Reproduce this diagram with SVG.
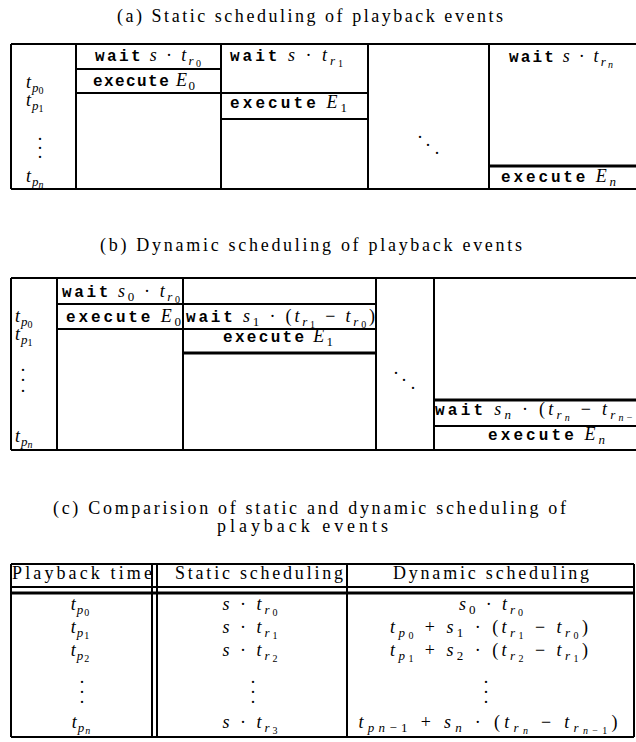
<svg xmlns="http://www.w3.org/2000/svg" width="636" height="742" viewBox="0 0 636 742">
<style>
.ln{stroke:#000;stroke-width:2;fill:none}
.th{stroke:#000;stroke-width:3;fill:none}
.rm{font-family:"Liberation Serif",serif;font-size:18px;fill:#000}
.mi{font-style:italic}
.tt{font-family:"Liberation Mono",monospace;font-size:16px;font-weight:bold}
.s1{font-size:13px}
.s2{font-size:10px}
.c{text-anchor:middle}
</style>
<rect width="636" height="742" fill="#fff"/>

<g id="titles">
<text class="rm" x="117" y="22" textLength="386" lengthAdjust="spacing">(a) Static scheduling of playback events</text>
<text class="rm" x="100" y="251" textLength="422" lengthAdjust="spacing">(b) Dynamic scheduling of playback events</text>
<text class="rm" x="53" y="514" textLength="513" lengthAdjust="spacing">(c) Comparision of static and dynamic scheduling of</text>
<text class="rm" x="217" y="532" textLength="171" lengthAdjust="spacing">playback events</text>
</g>

<g id="table-a">
<path class="ln" d="M11,44H636M11,189H636M11,44V189M76,44V189M221,44V189M368,44V189M489,44V189M76,69H221M76,93H368M221,119H368"/>
<path class="th" d="M489,166H636"/>
<text class="rm" x="26" y="88"><tspan class="mi">t</tspan><tspan class="mi s1" dx="1" dy="4">p</tspan><tspan class="s2" dy="2">0</tspan></text>
<text class="rm" x="26" y="106"><tspan class="mi">t</tspan><tspan class="mi s1" dx="1" dy="4">p</tspan><tspan class="s2" dy="2">1</tspan></text>
<text class="rm c"><tspan x="40" y="140">.</tspan><tspan x="40" y="149">.</tspan><tspan x="40" y="158">.</tspan></text>
<text class="rm" x="26" y="182"><tspan class="mi">t</tspan><tspan class="mi s1" dx="1" dy="4">p</tspan><tspan class="mi s2" dy="2">n</tspan></text>
<text class="rm" x="95" y="61" textLength="106" lengthAdjust="spacing"><tspan class="tt">wait</tspan> <tspan class="mi">s</tspan> · <tspan class="mi">t</tspan><tspan class="mi s1" dy="4">r</tspan><tspan class="s2" dy="2">0</tspan></text>
<text class="rm" x="93" y="86" textLength="102" lengthAdjust="spacing"><tspan class="tt">execute</tspan> <tspan class="mi">E</tspan><tspan class="s1" dy="4">0</tspan></text>
<text class="rm" x="230" y="61" textLength="113" lengthAdjust="spacing"><tspan class="tt">wait</tspan> <tspan class="mi">s</tspan> · <tspan class="mi">t</tspan><tspan class="mi s1" dy="4">r</tspan><tspan class="s2" dy="2">1</tspan></text>
<text class="rm" x="230" y="108" textLength="117" lengthAdjust="spacing"><tspan class="tt">execute</tspan> <tspan class="mi">E</tspan><tspan class="s1" dy="4">1</tspan></text>
<text class="rm c"><tspan x="420" y="138">.</tspan><tspan x="428" y="146">.</tspan><tspan x="437" y="154">.</tspan></text>
<text class="rm" x="509" y="62" textLength="104" lengthAdjust="spacing"><tspan class="tt">wait</tspan> <tspan class="mi">s</tspan> · <tspan class="mi">t</tspan><tspan class="mi s1" dy="4">r</tspan><tspan class="mi s2" dy="2">n</tspan></text>
<text class="rm" x="501" y="182" textLength="115" lengthAdjust="spacing"><tspan class="tt">execute</tspan> <tspan class="mi">E</tspan><tspan class="mi s1" dy="4">n</tspan></text>
</g>

<g id="table-b">
<path class="ln" d="M11,278H636M11,450H636M11,278V450M57,278V450M183,278V450M376,278V450M434,278V450M57,304H376M57,329H376M434,426H636"/>
<path class="th" d="M183,353H376M434,400H636"/>
<text class="rm" x="15" y="322"><tspan class="mi">t</tspan><tspan class="mi s1" dx="1" dy="4">p</tspan><tspan class="s2" dy="2">0</tspan></text>
<text class="rm" x="15" y="340"><tspan class="mi">t</tspan><tspan class="mi s1" dx="1" dy="4">p</tspan><tspan class="s2" dy="2">1</tspan></text>
<text class="rm c"><tspan x="23" y="371">.</tspan><tspan x="23" y="381">.</tspan><tspan x="23" y="392">.</tspan></text>
<text class="rm" x="15" y="442"><tspan class="mi">t</tspan><tspan class="mi s1" dx="1" dy="4">p</tspan><tspan class="mi s2" dy="2">n</tspan></text>
<text class="rm" x="62" y="297" textLength="118" lengthAdjust="spacing"><tspan class="tt">wait</tspan> <tspan class="mi">s</tspan><tspan class="s1" dy="4">0</tspan><tspan dy="-4"> · </tspan><tspan class="mi">t</tspan><tspan class="mi s1" dy="4">r</tspan><tspan class="s2" dy="2">0</tspan></text>
<text class="rm" x="66" y="322" textLength="115" lengthAdjust="spacing"><tspan class="tt">execute</tspan> <tspan class="mi">E</tspan><tspan class="s1" dy="4">0</tspan></text>
<text class="rm" x="186" y="322" textLength="189" lengthAdjust="spacing"><tspan class="tt">wait</tspan> <tspan class="mi">s</tspan><tspan class="s1" dy="4">1</tspan><tspan dy="-4"> · (</tspan><tspan class="mi">t</tspan><tspan class="mi s1" dy="4">r</tspan><tspan class="s2" dy="2">1</tspan><tspan dy="-6"> − </tspan><tspan class="mi">t</tspan><tspan class="mi s1" dy="4">r</tspan><tspan class="s2" dy="2">0</tspan><tspan dy="-6">)</tspan></text>
<text class="rm" x="223" y="342" textLength="110" lengthAdjust="spacing"><tspan class="tt">execute</tspan> <tspan class="mi">E</tspan><tspan class="s1" dy="4">1</tspan></text>
<text class="rm c"><tspan x="396" y="374">.</tspan><tspan x="404" y="381">.</tspan><tspan x="413" y="389">.</tspan></text>
<text class="rm" x="435" y="415" textLength="215" lengthAdjust="spacing"><tspan class="tt">wait</tspan> <tspan class="mi">s</tspan><tspan class="mi s1" dy="4">n</tspan><tspan dy="-4"> · (</tspan><tspan class="mi">t</tspan><tspan class="mi s1" dy="4">r</tspan><tspan class="mi s2" dy="2">n</tspan><tspan dy="-6"> − </tspan><tspan class="mi">t</tspan><tspan class="mi s1" dy="4">r</tspan><tspan class="mi s2" dy="2">n</tspan><tspan class="s2">−1</tspan><tspan dy="-6">)</tspan></text>
<text class="rm" x="488" y="440" textLength="117" lengthAdjust="spacing"><tspan class="tt">execute</tspan> <tspan class="mi">E</tspan><tspan class="mi s1" dy="4">n</tspan></text>
</g>

<g id="table-c">
<path class="ln" d="M11,564H634M11,587H634M11,737H634M11,564V737M152,564V737M157,564V737M347,564V737M634,564V737"/>
<path class="th" d="M11,593H634"/>
<text class="rm" x="12" y="579" textLength="140" lengthAdjust="spacing">Playback time</text>
<text class="rm" x="175" y="579" textLength="168" lengthAdjust="spacing">Static scheduling</text>
<text class="rm" x="393" y="579" textLength="196" lengthAdjust="spacing">Dynamic scheduling</text>

<text class="rm c" x="80" y="610"><tspan class="mi">t</tspan><tspan class="mi s1" dx="1" dy="4">p</tspan><tspan class="s2" dx="1" dy="2">0</tspan></text>
<text class="rm c" x="80" y="633"><tspan class="mi">t</tspan><tspan class="mi s1" dx="1" dy="4">p</tspan><tspan class="s2" dx="1" dy="2">1</tspan></text>
<text class="rm c" x="80" y="656"><tspan class="mi">t</tspan><tspan class="mi s1" dx="1" dy="4">p</tspan><tspan class="s2" dx="1" dy="2">2</tspan></text>
<text class="rm c"><tspan x="82" y="683">.</tspan><tspan x="82" y="693">.</tspan><tspan x="82" y="703">.</tspan></text>
<text class="rm c" x="81" y="728"><tspan class="mi">t</tspan><tspan class="mi s1" dx="1" dy="4">p</tspan><tspan class="mi s2" dx="1" dy="2">n</tspan></text>

<text class="rm c" x="250" y="610" textLength="55" lengthAdjust="spacing"><tspan class="mi">s</tspan> · <tspan class="mi">t</tspan><tspan class="mi s1" dy="4">r</tspan><tspan class="s2" dy="2">0</tspan></text>
<text class="rm c" x="250" y="633" textLength="55" lengthAdjust="spacing"><tspan class="mi">s</tspan> · <tspan class="mi">t</tspan><tspan class="mi s1" dy="4">r</tspan><tspan class="s2" dy="2">1</tspan></text>
<text class="rm c" x="250" y="656" textLength="55" lengthAdjust="spacing"><tspan class="mi">s</tspan> · <tspan class="mi">t</tspan><tspan class="mi s1" dy="4">r</tspan><tspan class="s2" dy="2">2</tspan></text>
<text class="rm c"><tspan x="253" y="683">.</tspan><tspan x="253" y="693">.</tspan><tspan x="253" y="703">.</tspan></text>
<text class="rm c" x="250" y="728" textLength="55" lengthAdjust="spacing"><tspan class="mi">s</tspan> · <tspan class="mi">t</tspan><tspan class="mi s1" dy="4">r</tspan><tspan class="s2" dy="2">3</tspan></text>

<text class="rm c" x="491" y="610" textLength="64" lengthAdjust="spacing"><tspan class="mi">s</tspan><tspan class="s1" dy="4">0</tspan><tspan dy="-4"> · </tspan><tspan class="mi">t</tspan><tspan class="mi s1" dy="4">r</tspan><tspan class="s2" dy="2">0</tspan></text>
<text class="rm c" x="489" y="633" textLength="198" lengthAdjust="spacing"><tspan class="mi">t</tspan><tspan class="mi s1" dy="4">p</tspan><tspan class="s2" dy="2">0</tspan><tspan dy="-6"> + </tspan><tspan class="mi">s</tspan><tspan class="s1" dy="4">1</tspan><tspan dy="-4"> · (</tspan><tspan class="mi">t</tspan><tspan class="mi s1" dy="4">r</tspan><tspan class="s2" dy="2">1</tspan><tspan dy="-6"> − </tspan><tspan class="mi">t</tspan><tspan class="mi s1" dy="4">r</tspan><tspan class="s2" dy="2">0</tspan><tspan dy="-6">)</tspan></text>
<text class="rm c" x="489" y="656" textLength="198" lengthAdjust="spacing"><tspan class="mi">t</tspan><tspan class="mi s1" dy="4">p</tspan><tspan class="s2" dy="2">1</tspan><tspan dy="-6"> + </tspan><tspan class="mi">s</tspan><tspan class="s1" dy="4">2</tspan><tspan dy="-4"> · (</tspan><tspan class="mi">t</tspan><tspan class="mi s1" dy="4">r</tspan><tspan class="s2" dy="2">2</tspan><tspan dy="-6"> − </tspan><tspan class="mi">t</tspan><tspan class="mi s1" dy="4">r</tspan><tspan class="s2" dy="2">1</tspan><tspan dy="-6">)</tspan></text>
<text class="rm c"><tspan x="486" y="683">.</tspan><tspan x="486" y="693">.</tspan><tspan x="486" y="703">.</tspan></text>
<text class="rm c" x="488" y="728" textLength="259" lengthAdjust="spacing"><tspan class="mi">t</tspan><tspan class="mi s1" dy="4">pn</tspan><tspan class="s1">−1</tspan><tspan dy="-4"> + </tspan><tspan class="mi">s</tspan><tspan class="mi s1" dy="4">n</tspan><tspan dy="-4"> · (</tspan><tspan class="mi">t</tspan><tspan class="mi s1" dy="4">r</tspan><tspan class="mi s2" dy="2">n</tspan><tspan dy="-6"> − </tspan><tspan class="mi">t</tspan><tspan class="mi s1" dy="4">r</tspan><tspan class="mi s2" dy="2">n</tspan><tspan class="s2">−1</tspan><tspan dy="-6">)</tspan></text>
</g>
</svg>
